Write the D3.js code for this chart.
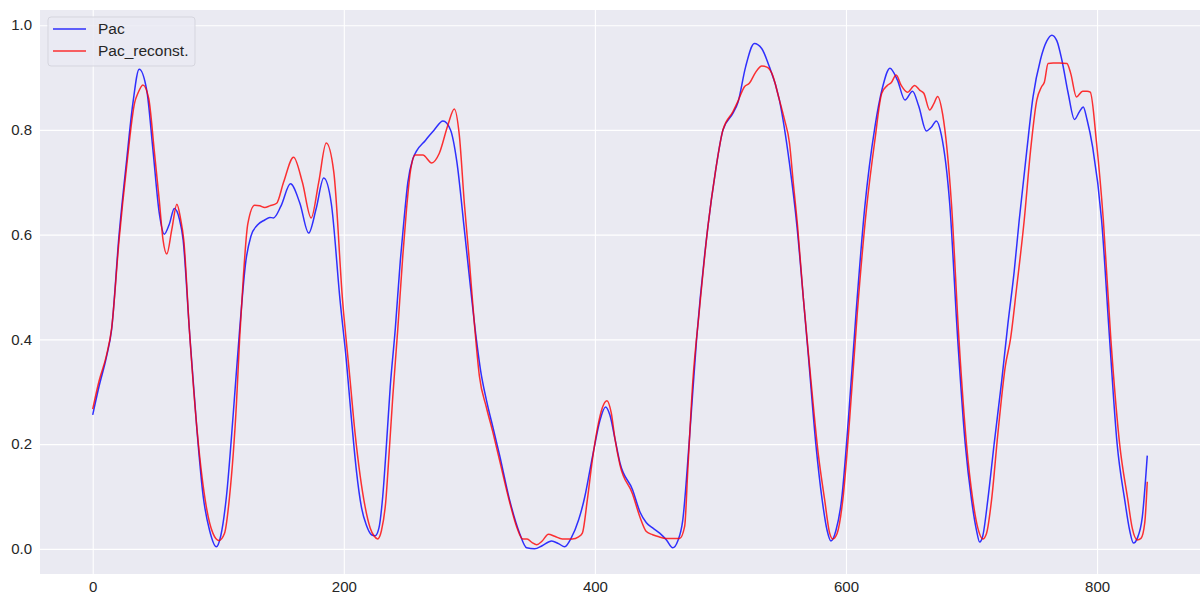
<!DOCTYPE html>
<html>
<head>
<meta charset="utf-8">
<script src="https://cdn.jsdelivr.net/npm/d3@7"></script>
<style>
  body { margin: 0; background: #fff; }
  text { font-family: "Liberation Sans", Arial, sans-serif; }
</style>
</head>
<body>
<div id="chart-area"></div>
<script>
// Pac vs reconstructed Pac, seaborn darkgrid look

var seriesNames = ["Pac", "Pac_reconst."];

var pacX = [0, 5, 11, 15, 21, 27, 32, 37, 43, 48, 53, 57, 61, 65, 69, 72, 77, 83, 88, 93, 98.5, 102, 106.5, 112, 117, 122, 126, 131, 137, 141, 144, 150, 157.5, 165, 172, 178, 184, 190, 197, 202, 206, 210, 214, 218, 222, 225, 228, 231, 234, 237, 241, 245, 248, 251, 255, 258, 265, 272, 279, 285, 290, 296, 300, 305.6, 309, 313.6, 319, 324, 332, 340, 345.6, 352, 358, 365.5, 371, 376, 381, 387, 392, 396, 400, 404, 408.5, 412, 416, 420, 430, 436, 441, 446, 451.6, 457, 462, 466, 470, 475, 481, 490, 496, 502, 510, 514, 520, 527, 533, 538, 547, 555, 561, 566, 570, 576, 581, 585, 588, 592, 596.5, 602, 608, 615, 623, 629, 635, 641, 647, 653, 658, 664, 668, 672, 676, 682.6, 689, 695, 700, 704, 706.5, 709, 713, 718, 724, 729, 734, 738, 744, 749, 755, 760, 764, 768, 772, 777, 782, 786, 789, 792, 796.5, 803.6, 810, 816, 822, 826, 829, 832, 836, 840];
var pacY = [0.256, 0.31, 0.367, 0.418, 0.60, 0.742, 0.851, 0.916, 0.876, 0.761, 0.641, 0.601, 0.62, 0.650, 0.63, 0.59, 0.418, 0.227, 0.10, 0.036, 0.004, 0.025, 0.10, 0.26, 0.418, 0.55, 0.597, 0.618, 0.628, 0.633, 0.632, 0.655, 0.697, 0.66, 0.603, 0.65, 0.708, 0.66, 0.475, 0.36, 0.25, 0.15, 0.08, 0.045, 0.027, 0.025, 0.04, 0.10, 0.20, 0.31, 0.42, 0.55, 0.63, 0.70, 0.745, 0.76, 0.78, 0.80, 0.817, 0.80, 0.74, 0.61, 0.52, 0.40, 0.34, 0.284, 0.23, 0.18, 0.094, 0.03, 0.002, 0.0, 0.006, 0.015, 0.010, 0.004, 0.02, 0.055, 0.10, 0.15, 0.20, 0.245, 0.271, 0.255, 0.21, 0.164, 0.113, 0.07, 0.05, 0.04, 0.03, 0.017, 0.002, 0.015, 0.055, 0.20, 0.40, 0.615, 0.72, 0.80, 0.832, 0.853, 0.92, 0.965, 0.955, 0.927, 0.857, 0.736, 0.615, 0.48, 0.37, 0.20, 0.094, 0.035, 0.015, 0.035, 0.094, 0.25, 0.45, 0.653, 0.805, 0.88, 0.918, 0.895, 0.857, 0.874, 0.845, 0.798, 0.805, 0.817, 0.79, 0.66, 0.40, 0.20, 0.094, 0.035, 0.013, 0.025, 0.094, 0.20, 0.32, 0.43, 0.53, 0.628, 0.76, 0.863, 0.935, 0.97, 0.981, 0.97, 0.933, 0.87, 0.82, 0.835, 0.844, 0.82, 0.767, 0.628, 0.40, 0.20, 0.094, 0.035, 0.011, 0.02, 0.06, 0.178];

var recX = [0, 5, 11, 15, 21, 27, 33.5, 36, 40, 44.6, 49, 53, 56, 59, 63, 67, 70, 72.5, 77, 83, 90.5, 95.7, 100.5, 105, 109, 114.5, 117, 120, 123.5, 129, 133, 137, 141, 146.5, 152, 160, 167, 174, 180, 186, 192, 199, 204.7, 209, 213, 217, 221, 224, 227, 230, 233.4, 236, 239, 243, 247, 250, 253, 257, 263, 270, 276, 283, 288, 292, 296, 300, 304, 308, 313.6, 319, 324, 332, 338, 342.5, 346, 350, 353.6, 358, 363, 368, 374, 382, 387, 390, 394, 398, 402, 406, 409.6, 413, 416, 420, 430, 436, 441, 446, 451, 457, 462, 467.5, 471.5, 474, 478, 483, 490, 496, 502, 510, 514, 519, 523, 528, 533, 537, 541, 547, 551, 555, 558, 561.5, 566, 571, 578, 583, 587, 589.5, 593, 597.5, 603, 609, 616.5, 623, 628.5, 633, 636, 640, 644, 649, 654.7, 658.7, 662, 666.7, 670, 673, 677, 684, 690, 696, 701, 705, 709, 712, 716, 721, 727, 731, 736, 742, 747, 752, 755.7, 758, 761, 765, 770, 776, 779, 783.6, 788.5, 792, 794.6, 799.6, 805, 811, 818, 824.5, 828, 832, 835, 838, 840];
var recY = [0.267, 0.32, 0.37, 0.42, 0.59, 0.73, 0.853, 0.87, 0.886, 0.86, 0.761, 0.666, 0.59, 0.563, 0.61, 0.658, 0.63, 0.59, 0.418, 0.23, 0.08, 0.03, 0.016, 0.03, 0.10, 0.278, 0.40, 0.52, 0.62, 0.656, 0.655, 0.652, 0.655, 0.66, 0.70, 0.748, 0.70, 0.632, 0.70, 0.775, 0.72, 0.475, 0.33, 0.22, 0.14, 0.08, 0.04, 0.025, 0.019, 0.035, 0.09, 0.18, 0.29, 0.42, 0.56, 0.65, 0.72, 0.752, 0.752, 0.737, 0.755, 0.81, 0.840, 0.79, 0.66, 0.55, 0.43, 0.33, 0.27, 0.22, 0.17, 0.09, 0.04, 0.019, 0.019, 0.012, 0.008, 0.015, 0.028, 0.024, 0.019, 0.019, 0.023, 0.03, 0.094, 0.17, 0.23, 0.27, 0.283, 0.26, 0.21, 0.16, 0.105, 0.06, 0.033, 0.027, 0.023, 0.02, 0.02, 0.02, 0.043, 0.15, 0.32, 0.45, 0.615, 0.72, 0.80, 0.835, 0.855, 0.882, 0.889, 0.91, 0.922, 0.92, 0.908, 0.857, 0.82, 0.775, 0.70, 0.615, 0.48, 0.35, 0.18, 0.094, 0.03, 0.019, 0.03, 0.094, 0.25, 0.45, 0.653, 0.78, 0.87, 0.885, 0.89, 0.905, 0.885, 0.872, 0.885, 0.876, 0.87, 0.838, 0.85, 0.864, 0.83, 0.66, 0.40, 0.20, 0.094, 0.04, 0.019, 0.03, 0.094, 0.22, 0.35, 0.40, 0.50, 0.628, 0.76, 0.857, 0.882, 0.891, 0.927, 0.928, 0.928, 0.927, 0.908, 0.863, 0.874, 0.874, 0.872, 0.775, 0.628, 0.40, 0.20, 0.094, 0.04, 0.017, 0.02, 0.05, 0.128];

var xTicks = [0, 200, 400, 600, 800];
var yTicks = [0.0, 0.2, 0.4, 0.6, 0.8, 1.0];

var width = 1200, height = 596;
var plot = { left: 40, right: 1200, top: 10, bottom: 574 };

var xScale = d3.scaleLinear()
    .domain([-42, 882])
    .range([plot.left, plot.right]);

var yScale = d3.scaleLinear()
    .domain([-0.048, 1.029])
    .range([plot.bottom, plot.top]);

var svg = d3.select("#chart-area")
    .append("svg")
    .attr("width", width)
    .attr("height", height);

// background
svg.append("rect")
    .attr("x", plot.left)
    .attr("y", plot.top)
    .attr("width", plot.right - plot.left)
    .attr("height", plot.bottom - plot.top)
    .attr("fill", "#eaeaf2");

// grid lines + tick labels
var xAxis = d3.axisBottom(xScale)
    .tickValues(xTicks)
    .tickSize(-(plot.bottom - plot.top))
    .tickPadding(7)
    .tickFormat(d3.format("d"));
var yAxis = d3.axisLeft(yScale)
    .tickValues(yTicks)
    .tickSize(-(plot.right - plot.left))
    .tickPadding(8)
    .tickFormat(d3.format(".1f"));

var gx = svg.append("g")
    .attr("transform", "translate(0," + plot.bottom + ")")
    .call(xAxis);
var gy = svg.append("g")
    .attr("transform", "translate(" + plot.left + ",0)")
    .call(yAxis);

[gx, gy].forEach(g => {
    g.select(".domain").remove();
    g.selectAll(".tick line")
        .attr("stroke", "#ffffff")
        .attr("stroke-width", 1.1);
    g.selectAll(".tick text")
        .attr("fill", "#262626")
        .attr("font-size", "15px");
});

// lines
var line = d3.line()
    .x(d => xScale(d[0]))
    .y(d => yScale(d[1]))
    .curve(d3.curveMonotoneX);

var pacData = pacX.map((x, i) => [x, pacY[i]]);
var recData = recX.map((x, i) => [x, recY[i]]);

svg.append("path")
    .datum(pacData)
    .attr("d", line)
    .attr("fill", "none")
    .attr("stroke", "#0000ff")
    .attr("stroke-opacity", 0.8)
    .attr("stroke-width", 1.5);

svg.append("path")
    .datum(recData)
    .attr("d", line)
    .attr("fill", "none")
    .attr("stroke", "#ff0000")
    .attr("stroke-opacity", 0.8)
    .attr("stroke-width", 1.5);

// legend
var colors = ["#0000ff", "#ff0000"];
var legend = svg.append("g")
    .attr("transform", "translate(48,17)");

legend.append("rect")
    .attr("width", 147)
    .attr("height", 49)
    .attr("rx", 3)
    .attr("fill", "#eaeaf2")
    .attr("fill-opacity", 0.8)
    .attr("stroke", "#d5d5de")
    .attr("stroke-width", 1);

seriesNames.forEach((name, i) => {
    var row = legend.append("g")
        .attr("transform", "translate(0," + (12 + i * 22) + ")");
    row.append("line")
        .attr("x1", 5)
        .attr("x2", 38)
        .attr("stroke", colors[i])
        .attr("stroke-opacity", 0.8)
        .attr("stroke-width", 1.5);
    row.append("text")
        .attr("x", 50)
        .attr("dy", "0.35em")
        .attr("font-size", "15.5px")
        .attr("fill", "#262626")
        .text(name);
});
</script>
</body>
</html>
